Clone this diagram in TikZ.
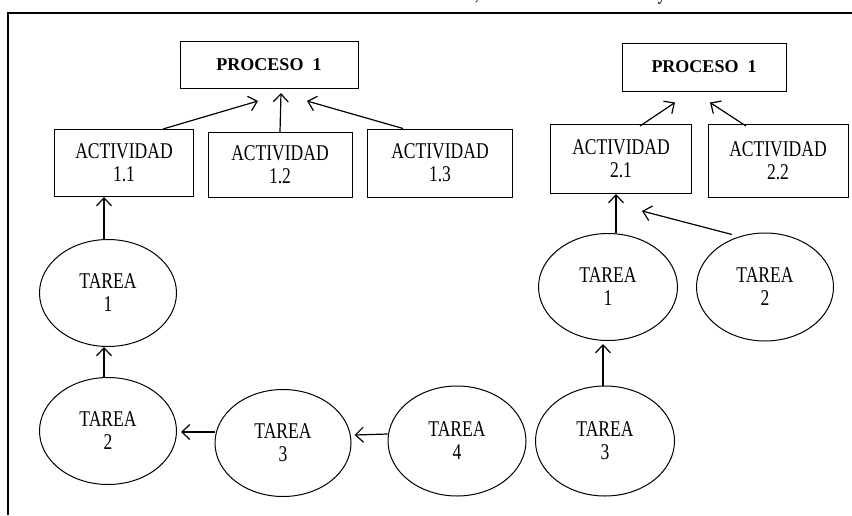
\documentclass[tikz,border=0pt]{standalone}
\usepackage{fontspec}
\setmainfont{Liberation Serif}
\newfontfamily\narrowserif{Liberation Serif}[FakeStretch=0.78]
\usetikzlibrary{positioning,arrows.meta,shapes.geometric,calc}
\tikzset{
    actbox/.style={draw, line width=1pt, align=center, inner sep=0pt,
        font=\narrowserif\fontsize{22.5}{23}\selectfont},
    procbox/.style={draw, line width=1pt, align=center, inner sep=0pt,
        font=\fontsize{18}{20}\selectfont\bfseries},
    tarea/.style={draw, ellipse, line width=1pt, align=center, inner sep=0pt,
        minimum width=137pt, minimum height=107pt,
        font=\narrowserif\fontsize{22.5}{23}\selectfont},
}

\begin{document}
\begin{tikzpicture}[
    >={Straight Barb[length=8pt,width=15pt]},
    x=1pt, y=-1pt,
    line width=1.2pt,
  ]

  \useasboundingbox (0,0) rectangle (852,515);

  % frame and the cut text above it
  \draw[line width=2.5pt] (8,515) -- (8,13) -- (853,13);
  \node[anchor=base, inner sep=0pt, font=\narrowserif\fontsize{22.5}{23}\selectfont] (coma) at (477,-1) {,};
  \node[anchor=base, inner sep=0pt, font=\narrowserif\fontsize{22.5}{23}\selectfont] (conj) at (662,-1) {y};

  % -----------
  % First block
  % -----------

  \node[procbox, minimum width=178pt, minimum height=47pt] (proc1) at (269,65) {PROCESO\ \ 1};

  \node[actbox, minimum width=139pt, minimum height=67pt] (act11) at (124,163) {ACTIVIDAD\\1.1};
  \node[actbox, minimum width=144pt, minimum height=65pt] (act12) at (280,165) {ACTIVIDAD\\1.2};
  \node[actbox, minimum width=145pt, minimum height=68pt] (act13) at (440,163) {ACTIVIDAD\\1.3};

  \draw[->] ([xshift=39pt]act11.north) -- ([xshift=-11pt,yshift=-12pt]proc1.south);
  \draw[->] (act12.north) -- ([xshift=12pt,yshift=-4pt]proc1.south);
  \draw[->] ([xshift=-37pt]act13.north) -- ([xshift=38pt,yshift=-12pt]proc1.south);

  % tasks of the first block
  \node[tarea] (tar11) at (108,293) {TAREA\\1};
  \node[tarea] (tar12) at (108,431) {TAREA\\2};
  \node[tarea, minimum width=136pt] (tar13) at (283,443) {TAREA\\3};
  \node[tarea, minimum width=138pt, minimum height=110pt] (tar14) at (457,441) {TAREA\\4};

  \draw[->] ([xshift=-4pt]tar11.north) -- ([xshift=-20pt]act11.south);
  \draw[->] ([xshift=-4pt]tar12.north) -- ([xshift=-4pt]tar11.south);
  \draw[->] ([yshift=11pt]tar13.west) -- ([xshift=4pt,yshift=-1pt]tar12.east);
  \draw[->] ([yshift=7pt]tar14.west) -- ([xshift=3pt,yshift=8pt]tar13.east);

  % ------------
  % Second block
  % ------------

  \node[procbox, minimum width=164pt, minimum height=48pt] (proc2) at (704,67) {PROCESO\ \ 1};

  \node[actbox, minimum width=141pt, minimum height=69pt] (act21) at (621,159) {ACTIVIDAD\\2.1};
  \node[actbox, minimum width=140pt, minimum height=73pt] (act22) at (778,161) {ACTIVIDAD\\2.2};

  \draw[->] ([xshift=19pt,yshift=-2pt]act21.north) -- ([xshift=-29pt,yshift=-11pt]proc2.south);
  \draw[->] ([xshift=-32pt,yshift=-2pt]act22.north) -- ([xshift=6pt,yshift=-11pt]proc2.south);

  % tasks of the second block
  \node[tarea, minimum width=139pt] (tar21) at (608,287) {TAREA\\1};
  \node[tarea, minimum height=108pt] (tar22) at (765,287) {TAREA\\2};
  \node[tarea, minimum width=139pt, minimum height=110pt] (tar23) at (605,441) {TAREA\\3};

  \draw[->] ([xshift=8pt]tar21.north) -- ([xshift=-5pt]act21.south);
  \draw[->] ([xshift=-33pt,yshift=-2pt]tar22.north) -- ([xshift=21pt,yshift=-17pt]act21.south);
  \draw[->] ([xshift=-2pt]tar23.north) -- ([xshift=-5pt,yshift=-3pt]tar21.south);

\end{tikzpicture}
\end{document}
